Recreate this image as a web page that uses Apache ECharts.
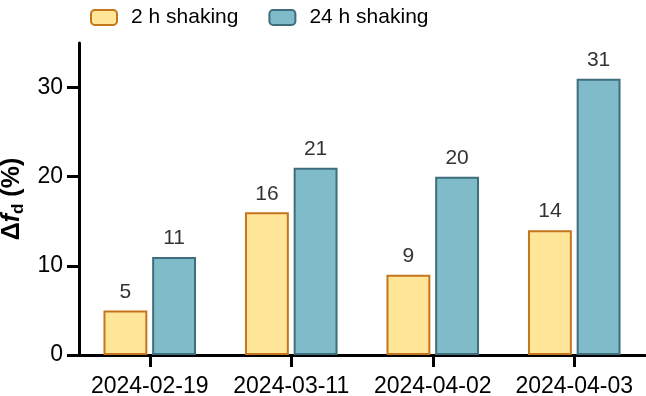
<!DOCTYPE html>
<html>
<head>
<meta charset="utf-8">
<script src="https://cdn.jsdelivr.net/npm/echarts@6/dist/echarts.min.js"></script>
<style>
  html, body { margin: 0; padding: 0; background: #fff; }
  #chart { width: 646px; height: 396px; }
</style>
</head>
<body>
<div id="chart"></div>
<script>
var dates = ["2024-02-19", "2024-03-11", "2024-04-02", "2024-04-03"];
var shaking2h = [5, 16, 9, 14];
var shaking24h = [11, 21, 20, 31];

var chart = echarts.init(document.getElementById("chart"));
var font = "Liberation Sans, Arial, sans-serif";

var option = {
  animation: false,
  textStyle: { fontFamily: font },
  legend: {
    left: 85,
    top: 2,
    itemWidth: 26,
    itemHeight: 15,
    itemGap: 30,
    textStyle: { fontSize: 21, color: "#000", padding: [0, 0, 0, 9] },
    data: ["2 h shaking", "24 h shaking"]
  },
  grid: { left: 79, right: 1, top: 43, bottom: 41, outerBoundsMode: "none", containLabel: false },
  xAxis: {
    type: "category",
    data: dates,
    axisLine: { lineStyle: { color: "#000", width: 3 } },
    axisTick: { show: true, alignWithLabel: true, inside: false, length: 12, lineStyle: { color: "#000", width: 3 } },
    axisLabel: { color: "#000", fontSize: 23, margin: 20, interval: 0 }
  },
  yAxis: {
    type: "value",
    min: 0,
    max: 35,
    interval: 10,
    name: "{a|Δ}{f|f}{d|d}{a| (%)}",
    nameLocation: "middle",
    nameRotate: 90,
    nameGap: 44,
    nameTextStyle: {
      rich: {
        a: { fontSize: 25, fontWeight: "bold", color: "#000", fontFamily: font },
        f: { fontSize: 25, fontWeight: "bold", fontStyle: "italic", color: "#000", fontFamily: font },
        d: { fontSize: 17, fontWeight: "bold", color: "#000", fontFamily: font, padding: [12, 0, 0, 0] }
      }
    },
    splitLine: { show: false },
    axisLine: { show: true, lineStyle: { color: "#000", width: 3 } },
    axisTick: { show: true, inside: false, length: 12, lineStyle: { color: "#000", width: 3 } },
    axisLabel: { color: "#000", fontSize: 23, margin: 16, showMaxLabel: false }
  },
  series: [
    {
      name: "2 h shaking",
      type: "bar",
      data: shaking2h,
      barWidth: "31%",
      barGap: "11%",
      itemStyle: { color: "#FFE699", borderColor: "#C5761C", borderWidth: 2 },
      label: { show: true, position: "top", distance: 8, color: "#333", fontSize: 21 }
    },
    {
      name: "24 h shaking",
      type: "bar",
      data: shaking24h,
      barWidth: "31%",
      itemStyle: { color: "#80BBC9", borderColor: "#3E6E7B", borderWidth: 2 },
      label: { show: true, position: "top", distance: 8, color: "#333", fontSize: 21 }
    }
  ]
};

chart.setOption(option);
</script>
</body>
</html>
